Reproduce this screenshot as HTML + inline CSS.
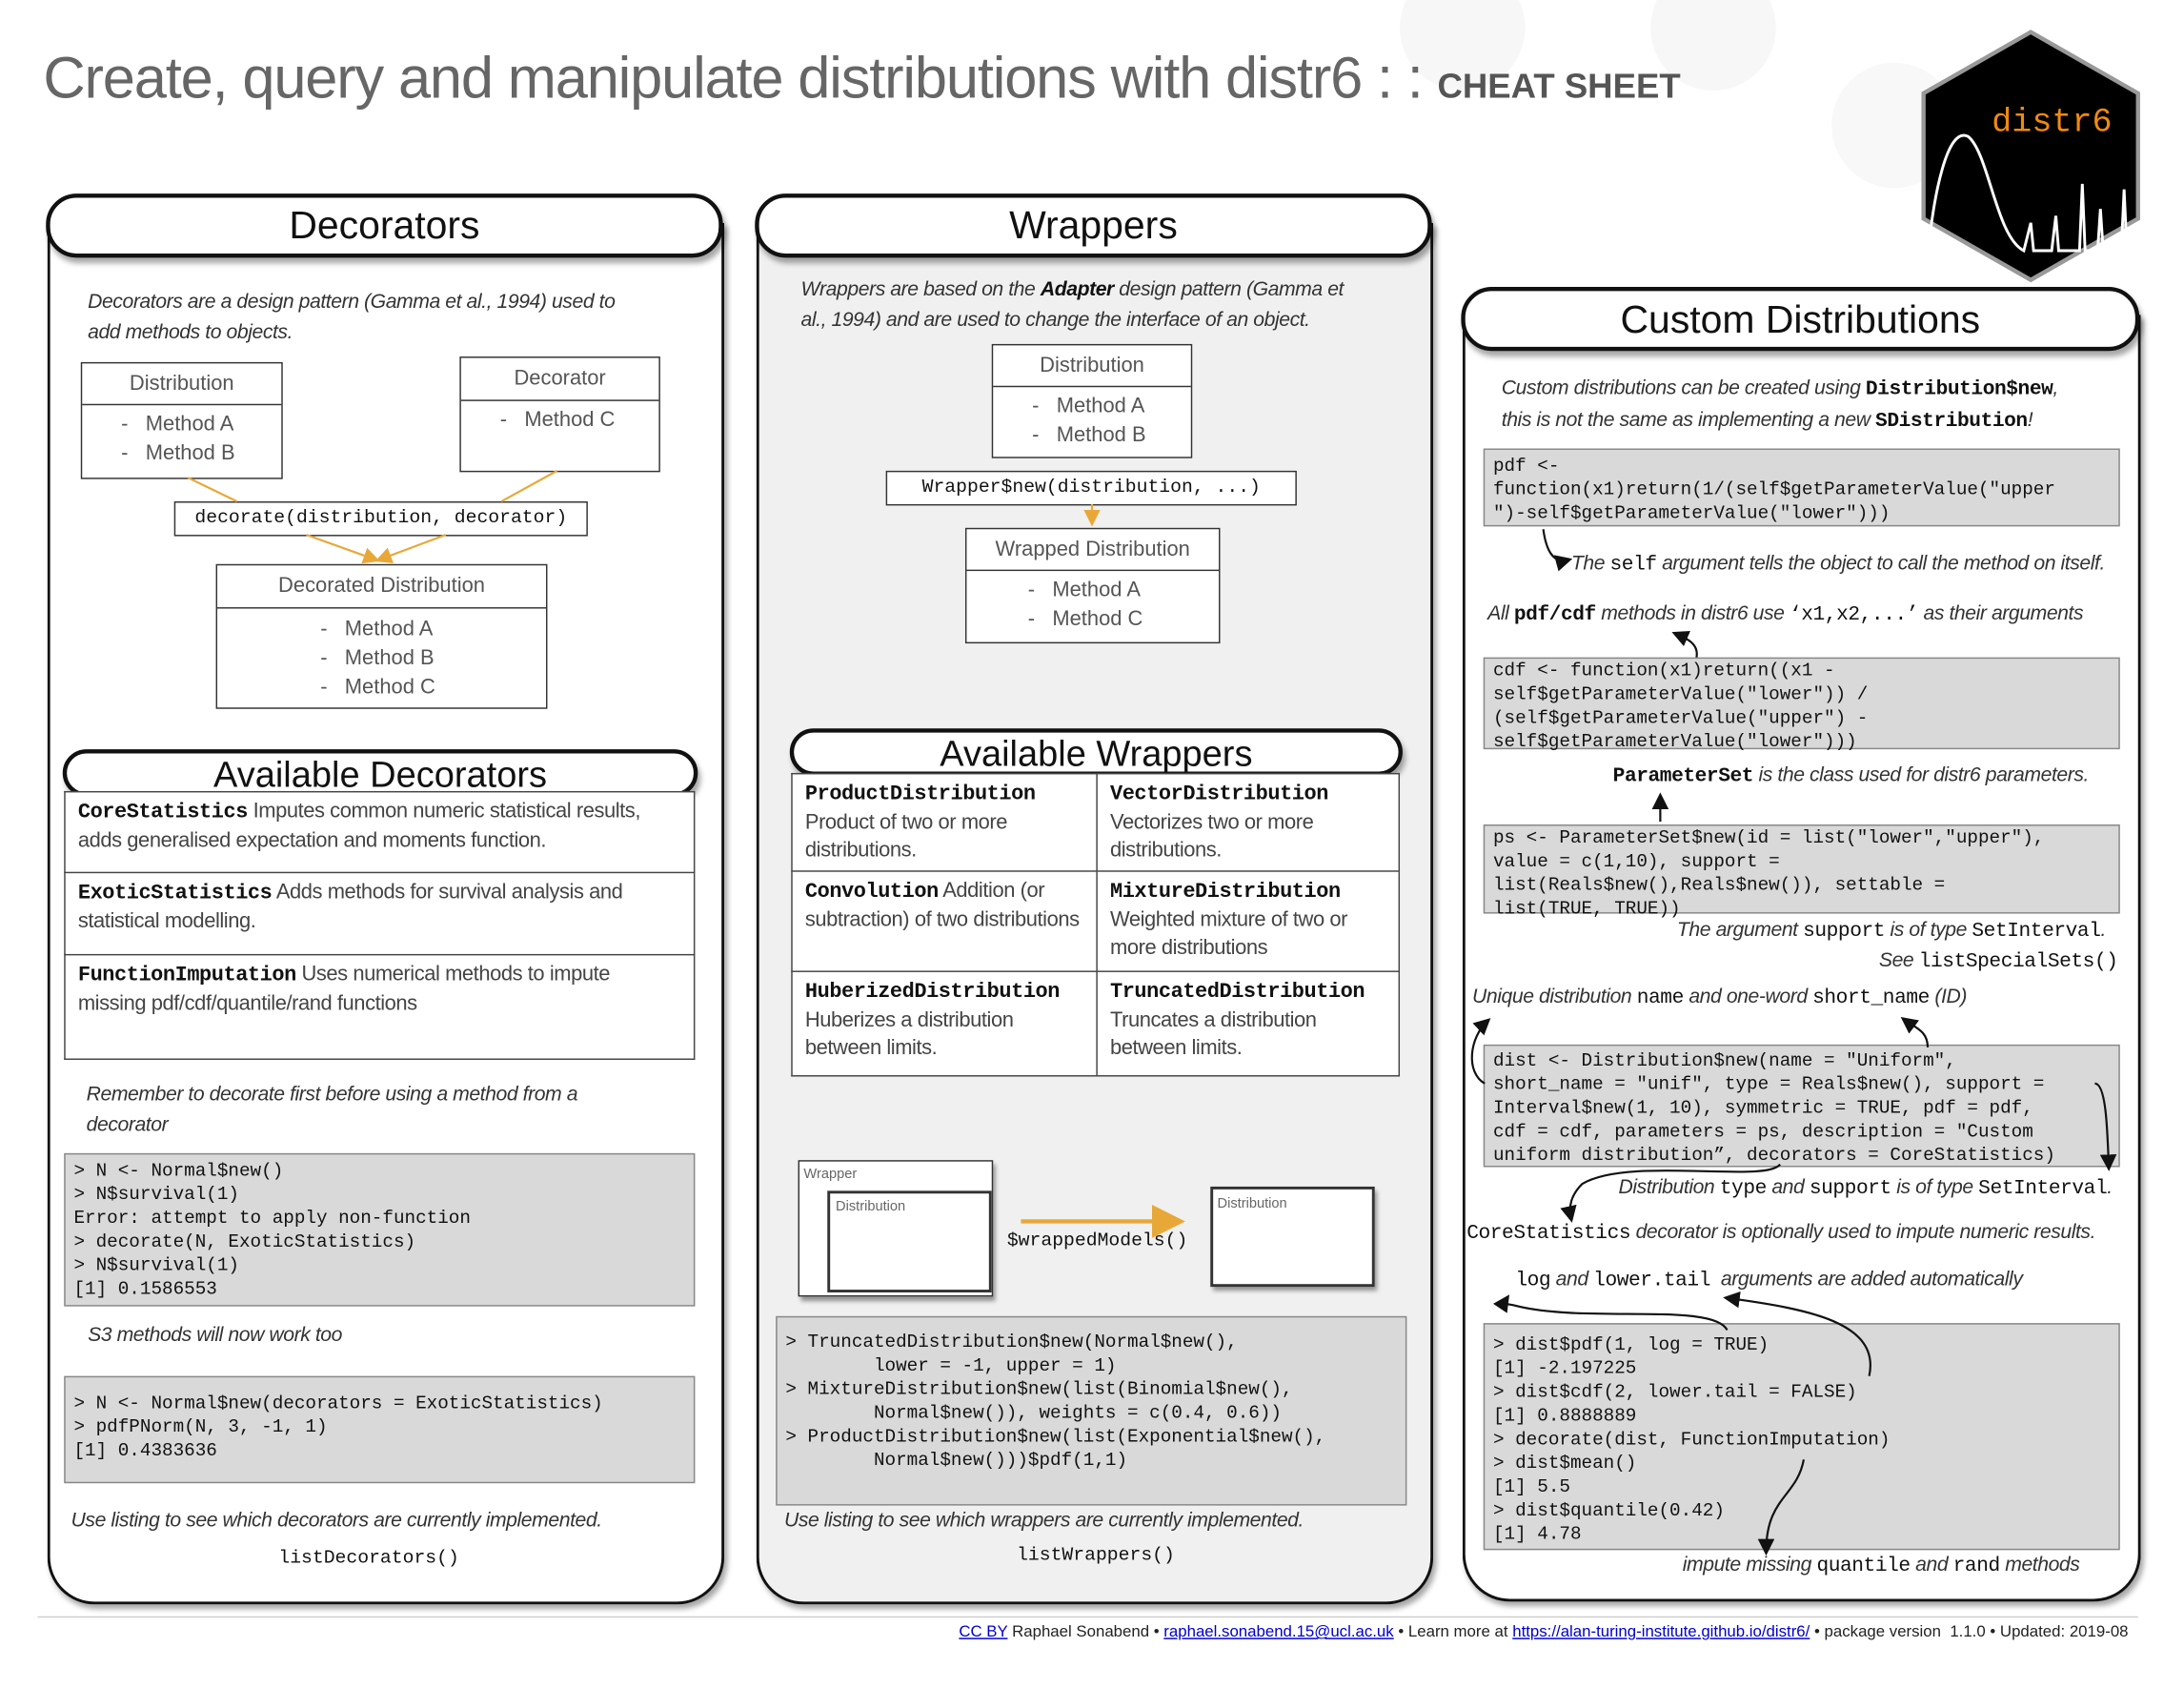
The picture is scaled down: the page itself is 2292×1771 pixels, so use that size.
<!DOCTYPE html>
<html><head><meta charset="utf-8"><style>
html,body{margin:0;padding:0;background:#fff;width:2292px;height:1771px;overflow:hidden}
#w{position:absolute;left:0;top:0;width:1568px;height:1212px;transform:scale(1.46173,1.4612);transform-origin:0 0;font-family:"Liberation Sans",sans-serif;color:#333}
.a{position:absolute;white-space:nowrap}
.panel{position:absolute;border:2px solid #111;border-top:none;border-radius:0 0 34px 34px;box-shadow:2px 3px 4px rgba(0,0,0,.35)}
.pill{position:absolute;border:3px solid #111;border-radius:22px;background:#fff;text-align:center;color:#111;box-shadow:2px 4px 4px rgba(0,0,0,.35)}
.box{position:absolute;border:1.5px solid #333;background:#fff}
.code{position:absolute;background:#d9d9d9;border:1px solid #888;font-family:"Liberation Mono",monospace;font-size:13.2px;line-height:17px;color:#111;white-space:pre;box-sizing:border-box;padding:3px 6px}
.it{font-style:italic;font-size:14.5px;color:#333;letter-spacing:-.3px}
.m{font-family:"Liberation Mono",monospace;font-style:normal;color:#111}
.b{font-weight:bold}
.hd{font-size:15px;color:#555;text-align:center;border-bottom:1.5px solid #333}
.li{font-size:15px;color:#555;padding-left:28px;line-height:21px}
td{vertical-align:top;padding:4px 9px;border:1.5px solid #444;font-size:15px;color:#444;line-height:20px;letter-spacing:-.3px}
table{border-collapse:collapse;position:absolute;background:#fff}
</style></head><body><div id="w">
<svg class="a" style="left:0;top:0" width="1568" height="1212">
<circle cx="1050" cy="20" r="45" fill="#f7f7f7"/><circle cx="1230" cy="20" r="45" fill="#f7f7f7"/><circle cx="1360" cy="90" r="45" fill="#f8f8f8"/>
</svg>
<div class="a" style="left:31px;top:32px;font-size:42px;color:#666;letter-spacing:-.8px">Create, query and manipulate distributions with distr6 : : <span style="font-size:25px;font-weight:bold;color:#555;letter-spacing:0">CHEAT SHEET</span></div>
<svg class="a" style="left:1378px;top:20px" width="160" height="184" viewBox="0 0 160 184">
<polygon points="80,3 157,47 157,137 80,181 3,137 3,47" fill="#000" stroke="#999" stroke-width="3"/>
<text x="52" y="74" font-family="Liberation Mono,monospace" font-size="24" fill="#f08a10">distr6</text>
<path d="M6,165 C10,120 20,70 35,78 C50,90 55,150 75,160 L80,140 L82,160 L95,160 L98,135 L100,160 L115,160 L117,112 L119,160 L128,160 L130,130 L132,160 L145,160 L147,116 L149,160 L150,160" fill="none" stroke="#fff" stroke-width="2"/>
</svg>

<div class="panel" style="left:34px;top:160px;width:482px;height:990px;background:#fff"></div>
<div class="pill" style="left:33px;top:139px;width:480px;height:40px;font-size:28px;line-height:40px">Decorators</div>
<div class="a it" style="left:63px;top:206px;line-height:22px">Decorators are a design pattern (Gamma et al., 1994) used to<br>add methods to objects.</div>
<div class="box" style="left:58px;top:260px;width:143px;height:82px"><div class="hd" style="height:29px;line-height:29px">Distribution</div><div class="li" style="padding-top:3px">-&nbsp;&nbsp; Method A<br>-&nbsp;&nbsp; Method B</div></div>
<div class="box" style="left:330px;top:256px;width:142px;height:81px"><div class="hd" style="height:30px;line-height:30px">Decorator</div><div class="li" style="padding-top:3px">-&nbsp;&nbsp; Method C</div></div>
<div class="box" style="left:125px;top:360px;width:295px;height:23px;font-family:'Liberation Mono',monospace;font-size:13.5px;line-height:23px;text-align:center;color:#111">decorate(distribution, decorator)</div>
<div class="box" style="left:155px;top:405px;width:236px;height:102px"><div class="hd" style="height:30px;line-height:30px">Decorated Distribution</div><div class="li" style="padding-left:74px;padding-top:4px">-&nbsp;&nbsp; Method A<br>-&nbsp;&nbsp; Method B<br>-&nbsp;&nbsp; Method C</div></div>
<div class="pill" style="left:45px;top:538px;width:450px;height:28px;font-size:26px;line-height:30px">Available Decorators</div>
<table style="left:46px;top:568px;width:453px">
<tr style="height:58px"><td><span class="m b">CoreStatistics</span> Imputes common numeric statistical results, adds generalised expectation and moments function.</td></tr>
<tr style="height:59px"><td><span class="m b">ExoticStatistics</span> Adds methods for survival analysis and statistical modelling.</td></tr>
<tr style="height:75px"><td><span class="m b">FunctionImputation</span> Uses numerical methods to impute missing pdf/cdf/quantile/rand functions</td></tr>
</table>
<div class="a it" style="left:62px;top:775px;line-height:22px">Remember to decorate first before using a method from a<br>decorator</div>
<div class="code" style="left:46px;top:828px;width:453px;height:110px">&gt; N &lt;- Normal$new()
&gt; N$survival(1)
Error: attempt to apply non-function
&gt; decorate(N, ExoticStatistics)
&gt; N$survival(1)
[1] 0.1586553</div>
<div class="a it" style="left:63px;top:951px">S3 methods will now work too</div>
<div class="code" style="left:46px;top:988px;width:453px;height:77px;padding-top:10px">&gt; N &lt;- Normal$new(decorators = ExoticStatistics)
&gt; pdfPNorm(N, 3, -1, 1)
[1] 0.4383636</div>
<div class="a it" style="left:51px;top:1084px">Use listing to see which decorators are currently implemented.</div>
<div class="a m" style="left:200px;top:1112px;font-size:13.5px">listDecorators()</div>

<div class="panel" style="left:543px;top:160px;width:482px;height:990px;background:#f0f0f0"></div>
<div class="pill" style="left:542px;top:139px;width:480px;height:40px;font-size:28px;line-height:40px">Wrappers</div>
<div class="a it" style="left:575px;top:197px;line-height:22px">Wrappers are based on the <b style="color:#111">Adapter</b> design pattern (Gamma et<br>al., 1994) and are used to change the interface of an object.</div>
<div class="box" style="left:712px;top:247px;width:142px;height:80px"><div class="hd" style="height:29px;line-height:29px">Distribution</div><div class="li" style="padding-top:3px">-&nbsp;&nbsp; Method A<br>-&nbsp;&nbsp; Method B</div></div>
<div class="box" style="left:636px;top:338px;width:293px;height:23px;font-family:'Liberation Mono',monospace;font-size:13.5px;line-height:23px;text-align:center;color:#111">Wrapper$new(distribution, ...)</div>
<div class="box" style="left:693px;top:379px;width:181px;height:81px"><div class="hd" style="height:29px;line-height:29px">Wrapped Distribution</div><div class="li" style="padding-left:44px;padding-top:3px">-&nbsp;&nbsp; Method A<br>-&nbsp;&nbsp; Method C</div></div>
<div class="pill" style="left:567px;top:523px;width:434px;height:28px;font-size:26px;line-height:30px">Available Wrappers</div>
<table style="left:568px;top:555px;width:437px">
<tr style="height:70px"><td style="width:200px"><span class="m b">ProductDistribution</span><br>Product of two or more distributions.</td><td><span class="m b">VectorDistribution</span><br>Vectorizes two or more distributions.</td></tr>
<tr style="height:72px"><td><span class="m b">Convolution</span> Addition (or subtraction) of two distributions</td><td><span class="m b">MixtureDistribution</span><br>Weighted mixture of two or more distributions</td></tr>
<tr style="height:75px"><td><span class="m b">HuberizedDistribution</span><br>Huberizes a distribution between limits.</td><td><span class="m b">TruncatedDistribution</span><br>Truncates a distribution between limits.</td></tr>
</table>
<div class="box" style="left:573px;top:833px;width:138px;height:96px;box-shadow:2px 3px 3px rgba(0,0,0,.4)"><div class="a" style="left:3px;top:4px;font-size:10px;color:#666">Wrapper</div></div>
<div class="box" style="left:594px;top:855px;width:114px;height:69px;border-width:2px"><div class="a" style="left:4px;top:4px;font-size:10px;color:#666">Distribution</div></div>
<div class="box" style="left:869px;top:852px;width:114px;height:68px;border-width:2px;box-shadow:2px 3px 3px rgba(0,0,0,.4)"><div class="a" style="left:3px;top:5px;font-size:10px;color:#666">Distribution</div></div>
<div class="a m" style="left:723px;top:884px;font-size:13.5px">$wrappedModels()</div>
<div class="code" style="left:557px;top:945px;width:453px;height:136px;padding-top:9px">&gt; TruncatedDistribution$new(Normal$new(),
        lower = -1, upper = 1)
&gt; MixtureDistribution$new(list(Binomial$new(),
        Normal$new()), weights = c(0.4, 0.6))
&gt; ProductDistribution$new(list(Exponential$new(),
        Normal$new()))$pdf(1,1)</div>
<div class="a it" style="left:563px;top:1084px">Use listing to see which wrappers are currently implemented.</div>
<div class="a m" style="left:730px;top:1110px;font-size:13.5px">listWrappers()</div>

<div class="panel" style="left:1050px;top:226px;width:483px;height:922px;background:#fff"></div>
<div class="pill" style="left:1049px;top:206px;width:481px;height:40px;font-size:28px;line-height:42px">Custom Distributions</div>
<div class="a it" style="left:1078px;top:268px;line-height:22px">Custom distributions can be created using <span class="m b">Distribution$new</span>,<br>this is not the same as implementing a new <span class="m b">SDistribution</span>!</div>
<div class="code" style="left:1065px;top:322px;width:457px;height:56px">pdf &lt;-
function(x1)return(1/(self$getParameterValue("upper
")-self$getParameterValue("lower")))</div>
<div class="a it" style="left:1128px;top:397px">The <span class="m">self</span> argument tells the object to call the method on itself.</div>
<div class="a it" style="left:1068px;top:433px">All <span class="m b">pdf/cdf</span> methods in distr6 use <span class="m">‘x1,x2,...’</span> as their arguments</div>
<div class="code" style="left:1065px;top:472px;width:457px;height:66px;padding-top:0">cdf &lt;- function(x1)return((x1 -
self$getParameterValue("lower")) /
(self$getParameterValue("upper") -
self$getParameterValue("lower")))</div>
<div class="a it" style="left:1158px;top:549px"><span class="m b">ParameterSet</span> is the class used for distr6 parameters.</div>
<div class="code" style="left:1065px;top:592px;width:457px;height:64px;padding-top:0">ps &lt;- ParameterSet$new(id = list("lower","upper"),
value = c(1,10), support =
list(Reals$new(),Reals$new()), settable =
list(TRUE, TRUE))</div>
<div class="a it" style="left:1204px;top:660px">The argument <span class="m">support</span> is of type <span class="m">SetInterval</span>.</div>
<div class="a it" style="left:1349px;top:682px">See <span class="m">listSpecialSets()</span></div>
<div class="a it" style="left:1057px;top:708px">Unique distribution <span class="m">name</span> and one-word <span class="m">short_name</span> (ID)</div>
<div class="code" style="left:1065px;top:750px;width:457px;height:88px;padding-top:2px">dist &lt;- Distribution$new(name = "Uniform",
short_name = "unif", type = Reals$new(), support =
Interval$new(1, 10), symmetric = TRUE, pdf = pdf,
cdf = cdf, parameters = ps, description = "Custom
uniform distribution”, decorators = CoreStatistics)</div>
<div class="a it" style="left:1162px;top:845px">Distribution <span class="m">type</span> and <span class="m">support</span> is of type <span class="m">SetInterval</span>.</div>
<div class="a it" style="left:1053px;top:877px"><span class="m">CoreStatistics</span> decorator is optionally used to impute numeric results.</div>
<div class="a it" style="left:1088px;top:911px"><span class="m">log</span> and <span class="m">lower.tail</span>&nbsp; arguments are added automatically</div>
<div class="code" style="left:1065px;top:950px;width:457px;height:163px;padding-top:6px">&gt; dist$pdf(1, log = TRUE)
[1] -2.197225
&gt; dist$cdf(2, lower.tail = FALSE)
[1] 0.8888889
&gt; decorate(dist, FunctionImputation)
&gt; dist$mean()
[1] 5.5
&gt; dist$quantile(0.42)
[1] 4.78</div>
<div class="a it" style="left:1208px;top:1116px">impute missing <span class="m">quantile</span> and <span class="m">rand</span> methods</div>

<svg class="a" style="left:0;top:0" width="1568" height="1212">
<defs>
<marker id="o" markerWidth="8" markerHeight="8" refX="6" refY="4" orient="auto"><path d="M0,0 L8,4 L0,8 z" fill="#e8a838"/></marker>
<marker id="k" markerWidth="8" markerHeight="8" refX="6" refY="4" orient="auto"><path d="M0,0 L8,4 L0,8 z" fill="#111"/></marker>
</defs>
<g stroke="#e8a838" stroke-width="1.5" fill="none">
<line x1="135" y1="343" x2="170" y2="360"/><line x1="400" y1="338" x2="360" y2="360"/>
<line x1="220" y1="384" x2="270" y2="402" marker-end="url(#o)"/><line x1="320" y1="384" x2="272" y2="402" marker-end="url(#o)"/>
<line x1="784" y1="362" x2="784" y2="375" marker-end="url(#o)"/>
<line x1="733" y1="877" x2="845" y2="877" stroke-width="3" marker-end="url(#o)"/>
</g>
<g stroke="#111" stroke-width="1.5" fill="none">
<path d="M1108,380 C1110,395 1115,405 1126,402" marker-end="url(#k)"/>
<path d="M1218,472 C1220,462 1210,458 1203,455" marker-end="url(#k)"/>
<path d="M1192,590 L1192,572" marker-end="url(#k)"/>
<path d="M1384,752 C1384,740 1375,738 1367,732" marker-end="url(#k)"/>
<path d="M1066,778 C1052,770 1055,745 1068,733" marker-end="url(#k)"/>
<path d="M1504,778 C1512,778 1513,810 1514,838" marker-end="url(#k)"/>
<path d="M1278,836 C1268,850 1170,830 1136,850 C1128,858 1126,866 1128,875" marker-end="url(#k)"/>
<path d="M1240,955 C1230,935 1140,950 1090,938 C1080,935 1078,938 1082,932" marker-end="url(#k)"/>
<path d="M1342,988 C1350,950 1300,940 1240,932" marker-end="url(#k)"/>
<path d="M1295,1048 C1290,1075 1268,1075 1268,1114" marker-end="url(#k)"/>
</g>
<line x1="27" y1="1161" x2="1535" y2="1161" stroke="#ccc" stroke-width="1"/>
</svg>
<div class="a" style="right:40px;top:1166px;font-size:11.5px;color:#222"><span style="color:#00c;text-decoration:underline">CC BY</span> Raphael Sonabend • <span style="color:#00c;text-decoration:underline">raphael.sonabend.15@ucl.ac.uk</span> • Learn more at <span style="color:#00c;text-decoration:underline">https://alan-turing-institute.github.io/distr6/</span> • package version &nbsp;1.1.0 • Updated: 2019-08</div>
</div></body></html>
